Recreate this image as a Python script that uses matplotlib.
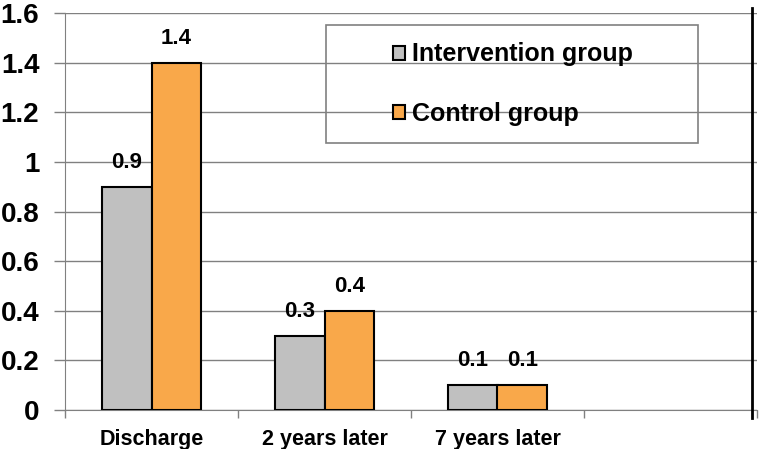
import matplotlib
matplotlib.use("Agg")
import matplotlib.pyplot as plt
from matplotlib.patches import Rectangle
import numpy as np

categories = ["Discharge", "2 years later", "7 years later", ""]
intervention = [0.9, 0.3, 0.1]
control = [1.4, 0.4, 0.1]
series_names = ["Intervention group", "Control group"]
yticks = [0, 0.2, 0.4, 0.6, 0.8, 1.0, 1.2, 1.4, 1.6]
ytick_labels = ["0", "0.2", "0.4", "0.6", "0.8", "1", "1.2", "1.4", "1.6"]

plt.rcParams['font.family'] = ['Liberation Sans', 'DejaVu Sans']
plt.rcParams['font.weight'] = 'bold'

fig = plt.figure(figsize=(7.6, 4.49), dpi=100)
ax = fig.add_axes([65/760, 39/449, 692/760, 397/449])

gray = "#C0C0C0"
orange = "#F9A84A"
w = 0.286
x = np.arange(len(intervention))
b1 = ax.bar(x - w/2, intervention, w, color=gray, edgecolor="black", linewidth=1.5, zorder=3, label=series_names[0])
b2 = ax.bar(x + w/2, control, w, color=orange, edgecolor="black", linewidth=1.5, zorder=3, label=series_names[1])

for bars, vals in ((b1, intervention), (b2, control)):
    for r, v in zip(bars, vals):
        ax.annotate(f"{v:g}", (r.get_x() + r.get_width()/2, r.get_height()),
                    xytext=(0, 10), textcoords="offset points",
                    ha="center", va="bottom", fontsize=16, fontweight="bold")

ax.set_xlim(-0.5, len(categories) - 0.5)
ax.set_ylim(0, 1.6)
ax.set_yticks(yticks)
ax.set_yticklabels(ytick_labels, fontsize=20, fontweight="bold")
ax.tick_params(axis="y", length=8, width=1, color="#808080", pad=10.5, direction="out")

ax.set_xticks(np.arange(len(categories)))
ax.set_xticklabels(categories, fontsize=15.5, fontweight="bold")
ax.tick_params(axis="x", which="major", length=0, pad=14)
ax.set_xticks(np.arange(len(categories) + 1) - 0.5, minor=True)
ax.tick_params(axis="x", which="minor", length=6, width=1, color="#808080", direction="out")

ax.yaxis.grid(True, color="#808080", linewidth=1, zorder=0)
ax.set_axisbelow(True)
for s in ("top", "right"):
    ax.spines[s].set_visible(False)
ax.spines["left"].set_color("#808080")
ax.spines["bottom"].set_color("#808080")

# thick vertical line near right edge
xr = len(categories) - 0.5 - 0.03
ax.plot([xr, xr], [-0.02, 1.013], transform=ax.get_xaxis_transform(),
        color="black", linewidth=2, clip_on=False, zorder=4)

# legend
ax.add_patch(Rectangle((326/760, (449-143)/449), (698-326)/760, (143-25)/449,
                       transform=fig.transFigure, fill=False, edgecolor="#808080",
                       linewidth=1.2, zorder=5, clip_on=False))
leg = fig.legend(handles=[b1, b2], loc="center left",
                 bbox_to_anchor=(383/760, (449-84)/449), frameon=False,
                 prop={"size": 18, "weight": "bold"}, handlelength=0.5, handleheight=0.5,
                 handletextpad=0.25, labelspacing=1.4, borderaxespad=0)

fig.savefig("out.png", dpi=100)
